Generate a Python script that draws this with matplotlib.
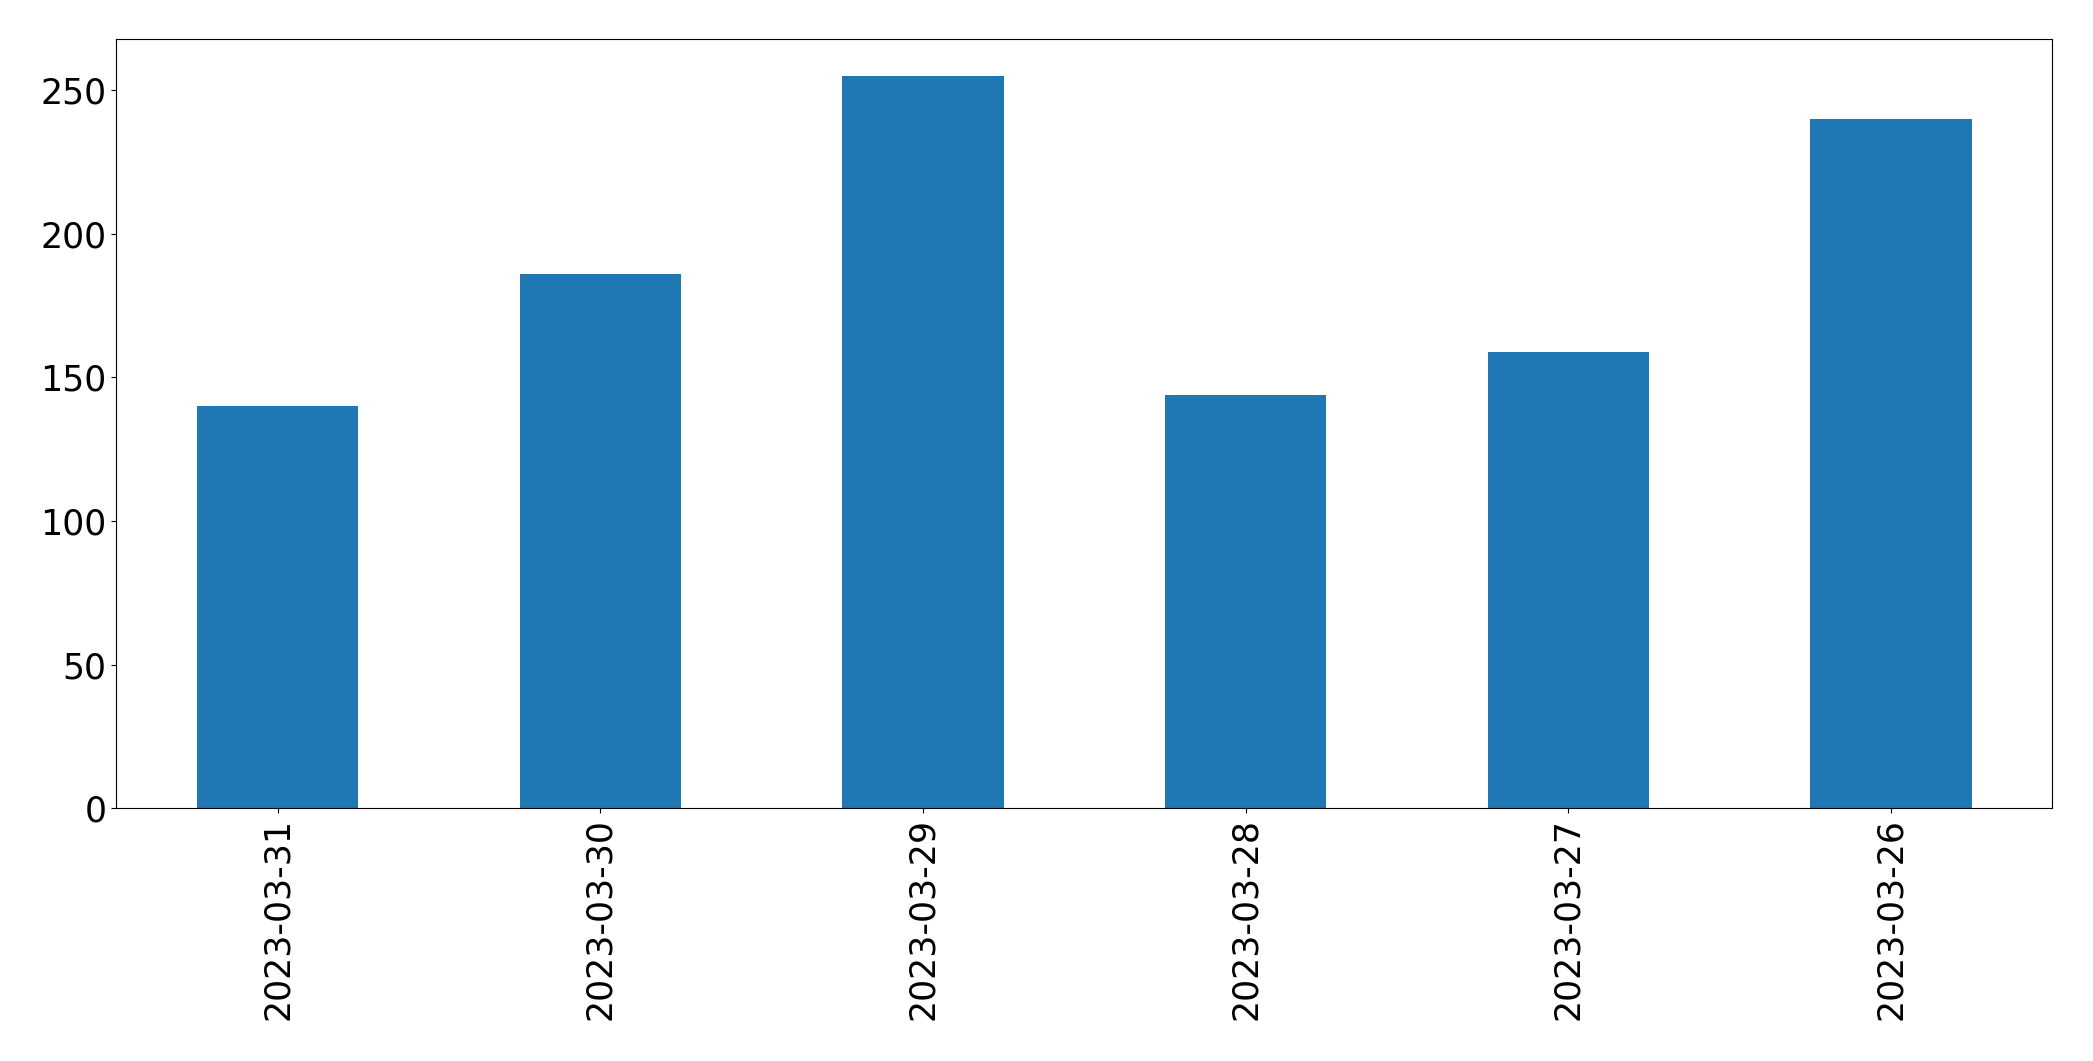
import matplotlib
matplotlib.use("Agg")
import matplotlib.pyplot as plt

# ---------------------------------------------------------------------
# Data
# ---------------------------------------------------------------------
dates = ["2023-03-31", "2023-03-30", "2023-03-29",
         "2023-03-28", "2023-03-27", "2023-03-26"]
counts = [140, 186, 255, 144, 159, 240]

# ---------------------------------------------------------------------
# Plot
# ---------------------------------------------------------------------
plt.rcParams["font.size"] = 25

fig = plt.figure(figsize=(20.93, 10.61), dpi=100)
ax = fig.add_axes([0.0556, 0.238, 0.925, 0.7252])

positions = list(range(len(dates)))
ax.bar(positions, counts, width=0.5, color="#1f77b4")

ax.set_xlim(-0.5, len(dates) - 0.5)
ax.set_xticks(positions)
ax.set_xticklabels(dates, rotation=90)
ax.tick_params(axis="both", labelsize=25)

fig.savefig("out.png", dpi=100)
